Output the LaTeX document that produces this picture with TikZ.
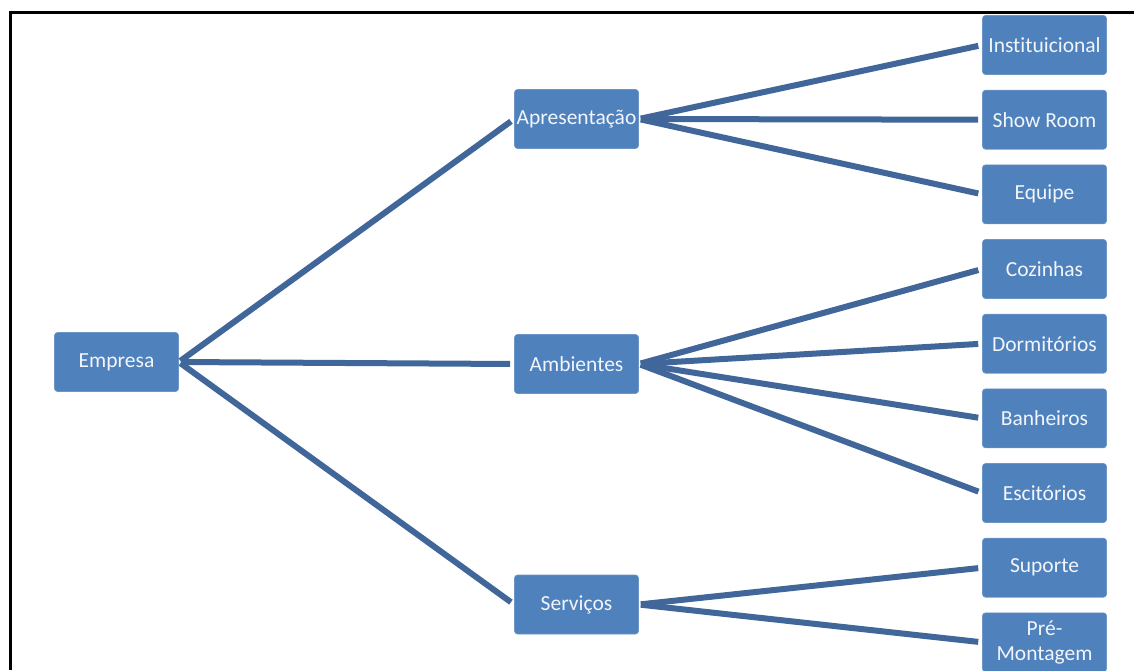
\documentclass[tikz,border=0pt]{standalone}
\usepackage{fontspec}
\setmainfont[Ligatures=NoCommon]{Carlito}
\definecolor{box-fill}{HTML}{4F81BD}
\definecolor{box-edge}{HTML}{6C95C8}
\definecolor{box-text}{HTML}{F2F5FA}
\definecolor{branch-line}{HTML}{40669A}
\tikzset{
  topic/.style={
    rectangle, rounded corners=3pt, draw=box-edge, fill=box-fill,
    text=box-text, line width=.6pt, minimum width=124pt,
    minimum height=59pt, inner sep=1pt, align=center,
    font=\fontsize{21.5}{25}\selectfont
  },
  branch/.style={
    draw, color=branch-line, line width=6pt,
    shorten <=2pt, shorten >=4pt
  }
}

\begin{document}
\begin{tikzpicture}[x=1pt, y=-1pt]
        \useasboundingbox (0,0) rectangle (1134,670);
        \draw[line width=3pt] (10,670) |- (1134,12);

        \node[topic] (empresa) at (116.5,362) {Empresa};
        \node[topic] (apres) at (576.5,119) {Apresentação};
        \node[topic] (amb) at (576.5,364) {Ambientes};
        \node[topic] (serv) at (576.5,604.5) {Serviços};

        \node[topic] (inst) at (1044.5,45) {Instituicional};
        \node[topic] (show) at (1044.5,119.7) {Show Room};
        \node[topic] (equipe) at (1044.5,194.3) {Equipe};
        \node[topic] (coz) at (1044.5,269) {Cozinhas};
        \node[topic] (dorm) at (1044.5,343.7) {Dormitórios};
        \node[topic] (banh) at (1044.5,418.3) {Banheiros};
        \node[topic] (escr) at (1044.5,493) {Escitórios};
        \node[topic] (sup) at (1044.5,567.7) {Suporte};
        \node[topic] (pre) at (1044.5,642.3) {Pré-\\Montagem};

        \draw[branch] (empresa.east) -- (apres.west);
        \draw[branch] (empresa.east) -- (amb.west);
        \draw[branch] (empresa.east) -- (serv.west);

        \draw[branch] (apres.east) -- (inst.west);
        \draw[branch] (apres.east) -- (show.west);
        \draw[branch] (apres.east) -- (equipe.west);

        \draw[branch] (amb.east) -- (coz.west);
        \draw[branch] (amb.east) -- (dorm.west);
        \draw[branch] (amb.east) -- (banh.west);
        \draw[branch] (amb.east) -- (escr.west);

        \draw[branch] (serv.east) -- (sup.west);
        \draw[branch] (serv.east) -- (pre.west);
      \end{tikzpicture}
\end{document}
